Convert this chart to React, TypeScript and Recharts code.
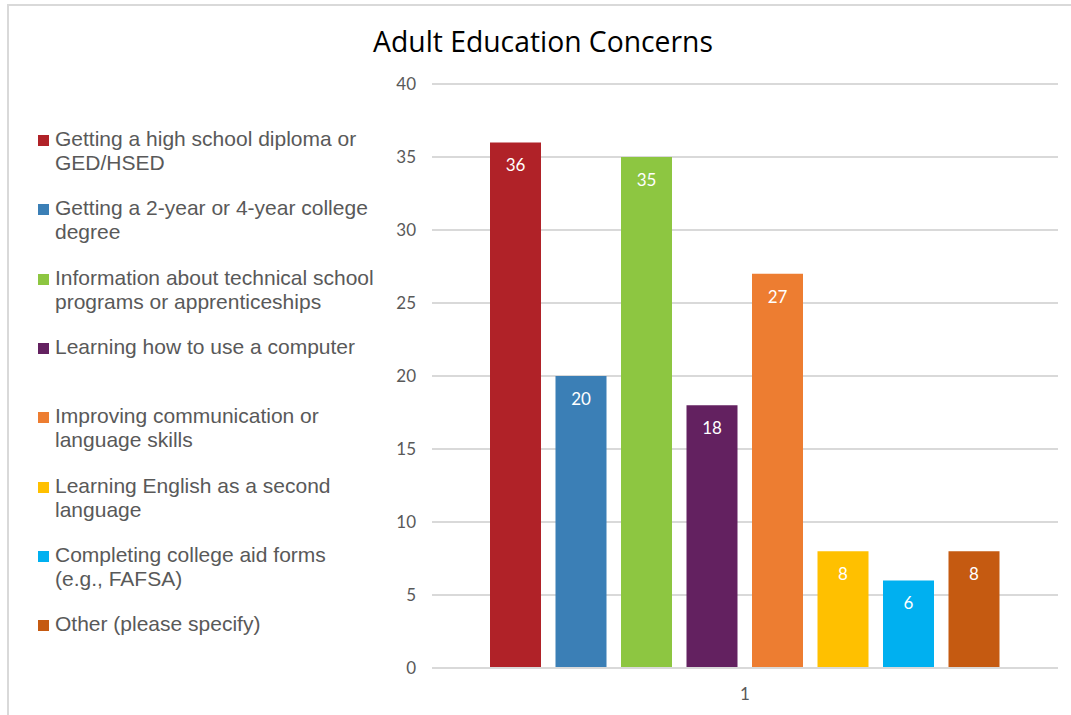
import React from 'react';
import { BarChart, Bar, XAxis, YAxis, CartesianGrid, LabelList } from 'recharts';

const categories = ['1'];
const seriesNames = [
  'Getting a high school diploma or\nGED/HSED',
  'Getting a 2-year or 4-year college\ndegree',
  'Information about technical school\nprograms or apprenticeships',
  'Learning how to use a computer',
  'Improving communication or\nlanguage skills',
  'Learning English as a second\nlanguage',
  'Completing college aid forms\n(e.g., FAFSA)',
  'Other (please specify)',
];
const seriesValues = [36, 20, 35, 18, 27, 8, 6, 8];
const seriesColors = ['#B02228', '#3B7FB6', '#8DC641', '#632160', '#ED7D31', '#FFC000', '#00B0F0', '#C55A11'];
const yTicks = [0, 5, 10, 15, 20, 25, 30, 35, 40];

const data = categories.map((c) => {
  const row: any = { cat: c };
  seriesValues.forEach((v, i) => { row['s' + i] = v; });
  return row;
});

const tickFont = 'Lato, "Open Sans", sans-serif';

function LegendBox() {
  return (
    <div style={{ position: 'absolute', left: 38, top: 127, width: 360, height: 560 }}>
      {seriesNames.map((name, i) => (
        <div key={i} style={{ position: 'absolute', left: 0, top: i * 69.3, height: 60 }}>
          <div style={{ position: 'absolute', left: 0, top: 8, width: 11, height: 11, background: seriesColors[i] }} />
          <div style={{ position: 'absolute', left: 17, top: 0, whiteSpace: 'pre', fontFamily: '"Liberation Sans", Arial, sans-serif', fontSize: 21, lineHeight: '24px', color: '#595959' }}>{name}</div>
        </div>
      ))}
    </div>
  );
}

export default function App() {
  return (
    <div style={{ position: 'absolute', left: 0, top: 0, width: 1071, height: 715, background: '#fff', overflow: 'hidden' }}>
      <div style={{ position: 'absolute', left: 7, top: 4, width: 1071, height: 715, borderLeft: '2px solid #d9d9d9', borderTop: '2px solid #d9d9d9' }} />
      <div style={{ position: 'absolute', left: 0, top: 22, width: 1086, textAlign: 'center', fontFamily: '"Open Sans", sans-serif', fontSize: 28.3, color: '#000', whiteSpace: 'nowrap' }}>Adult Education Concerns</div>
      <LegendBox />
      <div style={{ position: 'absolute', left: 0, top: 0 }}>
        <BarChart width={1071} height={715} data={data} margin={{ top: 84, right: 13, bottom: 17, left: 372 }} barSize={51} barGap={14.5}>
          <CartesianGrid horizontal vertical={false} stroke="#d9d9d9" strokeWidth={2} />
          <XAxis dataKey="cat" height={30} axisLine={{ stroke: '#d9d9d9', strokeWidth: 2 }} tickLine={false} tickSize={6} tickMargin={14} tick={{ fontFamily: tickFont, fontSize: 17, fill: '#595959' }} />
          <YAxis width={60} domain={[0, 40]} ticks={yTicks} axisLine={false} tickLine={false} tickSize={6} tickMargin={10} tick={{ fontFamily: tickFont, fontSize: 17, fill: '#595959' }} />
          {seriesValues.map((_, i) => (
            <Bar key={i} dataKey={'s' + i} name={seriesNames[i]} fill={seriesColors[i]} isAnimationActive={false}>
              <LabelList dataKey={'s' + i} position="insideTop" offset={17} fill="#fff" style={{ fontFamily: tickFont, fontSize: 17 }} />
            </Bar>
          ))}
        </BarChart>
      </div>
    </div>
  );
}
